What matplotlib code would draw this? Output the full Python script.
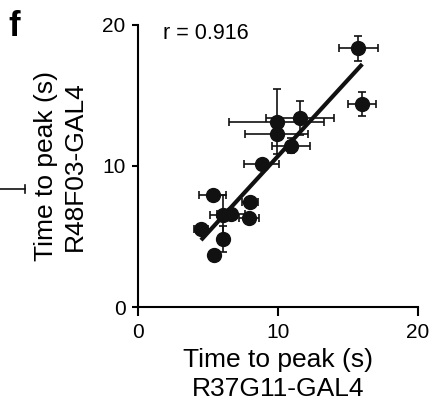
import matplotlib
matplotlib.use("Agg")
import matplotlib.pyplot as plt
from matplotlib.lines import Line2D
import numpy as np

plt.rcParams['font.family'] = ['Liberation Sans', 'DejaVu Sans']

# Time to peak (s), mean +/- error, per condition
t_r37g11 = [15.74, 16.02, 9.9, 11.57, 9.9, 10.93, 8.83, 5.33, 8.0, 6.1, 6.62, 7.95, 4.5, 6.05, 5.43]
t_r48f03 = [18.35, 14.4, 13.14, 13.38, 12.3, 11.44, 10.14, 7.97, 7.42, 6.52, 6.6, 6.33, 5.51, 4.82, 3.66]
err_r37g11 = [1.37, 0.99, 3.4, 2.43, 2.24, 1.35, 1.24, 0.96, 0.56, 0.95, 1.0, 0.7, 0.48, 0.0, 0.0]
err_r48f03 = [0.87, 0.86, 2.3, 1.2, 0.3, 0.53, 0.3, 0.3, 0.3, 1.4, 0.3, 0.3, 0.3, 0.9, 0.0]
r_text = "r = 0.916"
ticks = [0, 10, 20]

x = np.array(t_r37g11)
y = np.array(t_r48f03)

fig = plt.figure(figsize=(4.36, 4.01), dpi=100)
ax = fig.add_axes([0.3165, 0.2344, 0.6422, 0.7033])

ax.errorbar(x, y, xerr=err_r37g11, yerr=err_r48f03, fmt='o', color='#111111',
            ecolor='#111111', markersize=10, elinewidth=1.2, capsize=3,
            capthick=1.2, zorder=3)

# regression line
k, d = np.polyfit(x, y, 1)
xl = np.array([x.min(), x.max()])
ax.plot(xl, k * xl + d, color='#111111', lw=3, solid_capstyle='butt', zorder=2)

ax.text(1.8, 19.4, r_text, fontsize=15.5, ha='left', va='center')

ax.set_xlim(0, 20)
ax.set_ylim(0, 20)
ax.set_xticks(ticks)
ax.set_yticks(ticks)
ax.spines['top'].set_visible(False)
ax.spines['right'].set_visible(False)
for s in ['left', 'bottom']:
    ax.spines[s].set_linewidth(1.5)
ax.tick_params(axis='x', labelsize=15, length=6.5, width=1.5, pad=5)
ax.tick_params(axis='y', labelsize=15, length=4, width=1.5, pad=5)

ax.set_xlabel("Time to peak (s)\nR37G11-GAL4", fontsize=19, labelpad=4, linespacing=1.3)
ax.set_ylabel("Time to peak (s)\nR48F03-GAL4", fontsize=19, labelpad=11, linespacing=1.25)

fig.text(0.02, 0.975, "f", fontsize=25, fontweight='bold', ha='left', va='top')

# fragment of neighbouring panel at the left edge
fig.add_artist(Line2D([0, 25 / 436], [1 - 189 / 401, 1 - 189 / 401], color='#111111', lw=1.2))
fig.add_artist(Line2D([25 / 436, 25 / 436], [1 - 185 / 401, 1 - 193 / 401], color='#111111', lw=1.2))

fig.savefig("out.png", dpi=100)
